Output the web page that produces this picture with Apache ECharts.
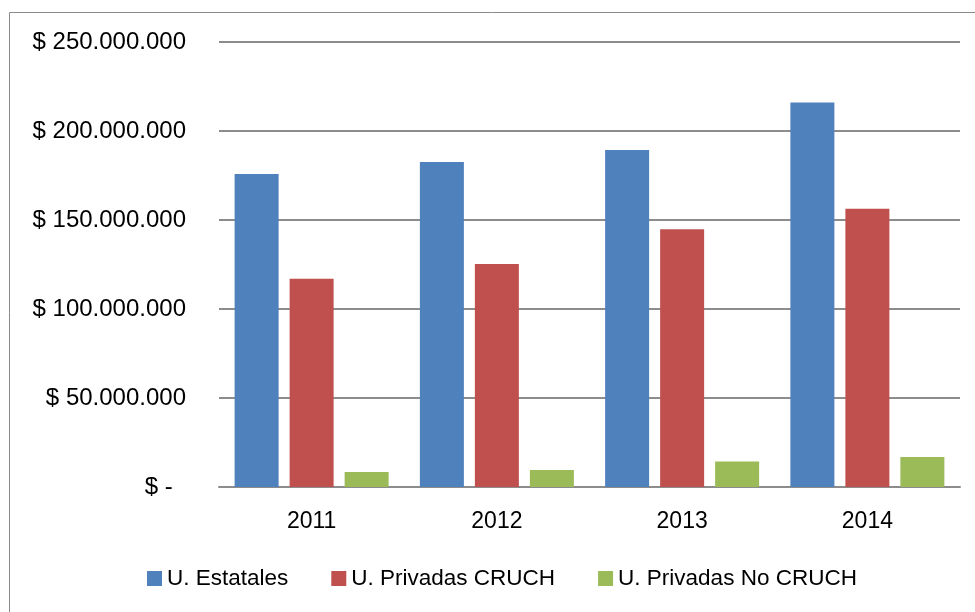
<!DOCTYPE html>
<html><head><meta charset="utf-8">
<script src="https://cdn.jsdelivr.net/npm/echarts@6/dist/echarts.min.js"></script>
<style>html,body{margin:0;padding:0;background:#fff}#c{width:975px;height:612px}</style>
</head><body><div id="c"></div>
<script>
const categories = ['2011', '2012', '2013', '2014'];
const seriesNames = ['U. Estatales', 'U. Privadas CRUCH', 'U. Privadas No CRUCH'];
const estatales = [175800000, 182600000, 189300000, 216000000];
const privadasCruch = [117000000, 125300000, 144800000, 156300000];
const privadasNoCruch = [8400000, 9600000, 14300000, 16900000];
const colors = ['#4f81bd', '#c0504d', '#9bbb59'];
const FONT = 'Liberation Sans';

function fmt(v) {
  if (v === 0) return '$ -  ';
  const s = String(Math.round(v)).replace(/\B(?=(\d{3})+(?!\d))/g, '.');
  return '$ ' + s;
}

const chart = echarts.init(document.getElementById('c'));
chart.setOption({
  animation: false,
  graphic: [{type: 'rect', shape: {x: 9.5, y: 12.5, width: 1000, height: 700}, style: {fill: 'none', stroke: '#8a8a8a', lineWidth: 1}, silent: true}],
  grid: {left: 219, right: 15, top: 42, bottom: 125},
  legend: {
    data: seriesNames, left: 142, top: 562, itemWidth: 15, itemHeight: 15, itemGap: 43,
    icon: 'rect', textStyle: {fontFamily: FONT, fontSize: 22.5, color: '#000'}
  },
  xAxis: {
    type: 'category', data: categories,
    axisLine: {lineStyle: {color: '#8c8c8c', width: 2}},
    axisTick: {show: false},
    axisLabel: {fontFamily: FONT, fontSize: 23, color: '#000', margin: 23}
  },
  yAxis: {
    type: 'value', min: 0, max: 250000000, interval: 50000000,
    axisLine: {show: false}, axisTick: {show: false},
    splitLine: {lineStyle: {color: '#8c8c8c', width: 2}},
    axisLabel: {fontFamily: FONT, fontSize: 24, color: '#000', margin: 33, formatter: fmt}
  },
  series: [
    {name: seriesNames[0], type: 'bar', data: estatales, itemStyle: {color: colors[0]}, barWidth: 44, barGap: '25%'},
    {name: seriesNames[1], type: 'bar', data: privadasCruch, itemStyle: {color: colors[1]}, barWidth: 44, barGap: '25%'},
    {name: seriesNames[2], type: 'bar', data: privadasNoCruch, itemStyle: {color: colors[2]}, barWidth: 44, barGap: '25%'}
  ]
});
</script></body></html>
